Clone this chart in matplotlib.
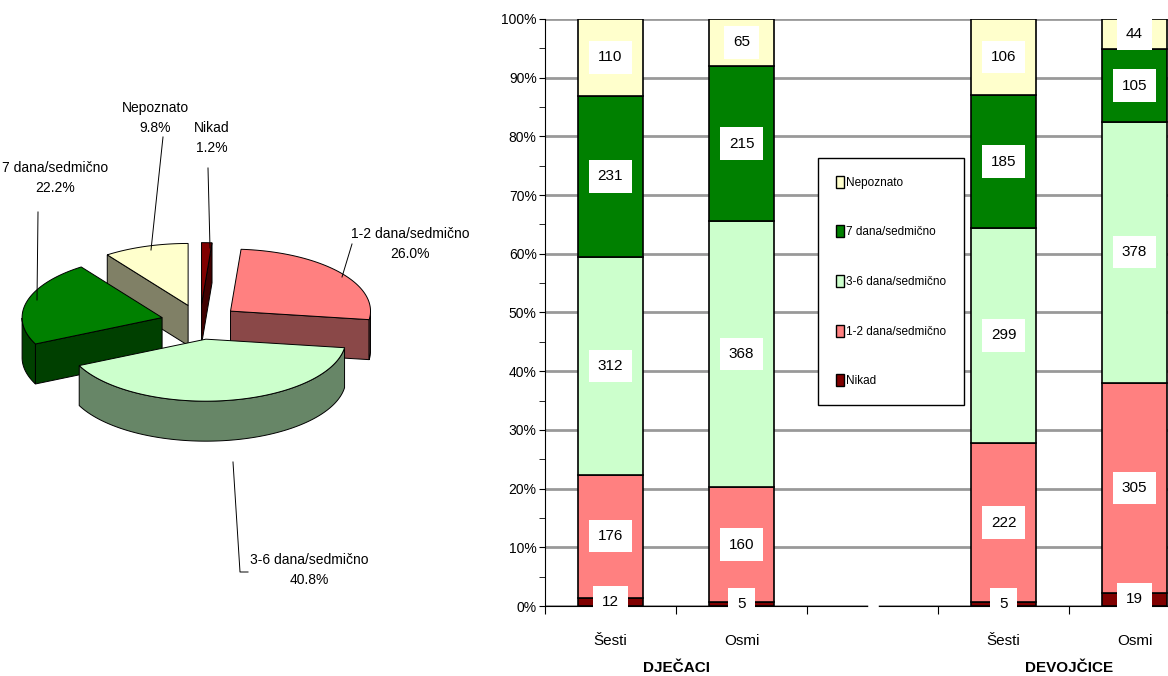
import numpy as np
import matplotlib
matplotlib.use('Agg')
import matplotlib.pyplot as plt
from matplotlib.patches import Polygon, Patch
from matplotlib.ticker import MultipleLocator, FuncFormatter

plt.rcParams['font.family'] = ['Liberation Sans Narrow', 'Liberation Sans', 'DejaVu Sans']

# podaci
serije = ['Nikad', '1-2 dana/sedmično', '3-6 dana/sedmično', '7 dana/sedmično', 'Nepoznato']
pie_udeo = [1.2, 26.0, 40.8, 22.2, 9.8]

razredi = ['Šesti', 'Osmi', 'Šesti', 'Osmi']
grupe = ['DJEČACI', 'DEVOJČICE']
nikad = [12, 5, 5, 19]
dana_12 = [176, 160, 222, 305]
dana_36 = [312, 368, 299, 378]
dana_7 = [231, 215, 185, 105]
nepoznato = [110, 65, 106, 44]

boje = ['#800000', '#FF8080', '#CCFFCC', '#008000', '#FFFFCC']
boje_strana = ['#400000', '#8A4848', '#678667', '#004000', '#808066']

W, H = 1168, 676
fig = plt.figure(figsize=(W / 100, H / 100), dpi=100)

# ---------- 3D pita (koordinate u pikselima) ----------
axp = fig.add_axes([0, 0, 490 / W, 1])
axp.set_xlim(0, 490)
axp.set_ylim(H, 0)
axp.axis('off')

cx, cy, rx, ry, dubina, eksp = 200, 322, 140, 62, 40, 0.28


def tacka(x0, y0, t):
    return x0 + rx * np.cos(t), y0 - ry * np.sin(t)


# ugao: pocinje od 90 stepeni, u smeru kazaljke
kraj = 90 - np.cumsum(pie_udeo) * 3.6
pocetak = np.concatenate([[90], kraj[:-1]])
kriske = []
for i in range(len(pie_udeo)):
    th1, th2 = np.radians(kraj[i]), np.radians(pocetak[i])
    sred = (th1 + th2) / 2
    ax0 = cx + eksp * rx * np.cos(sred)
    ay0 = cy - eksp * ry * np.sin(sred)
    kriske.append((i, th1, th2, ax0, ay0))

# crtanje od pozadi ka napred
kriske.sort(key=lambda k: k[4] - 60 * np.sin((k[1] + k[2]) / 2))
for i, th1, th2, ax0, ay0 in kriske:
    t = np.linspace(th1, th2, 120)
    xs, ys = tacka(ax0, ay0, t)
    ec = dict(edgecolor='black', linewidth=0.7)
    # radijalne strane
    if np.cos(th1) > 0:
        p = tacka(ax0, ay0, th1)
        axp.add_patch(Polygon([(ax0, ay0), p, (p[0], p[1] + dubina), (ax0, ay0 + dubina)],
                              facecolor=boje_strana[i], **ec))
    if np.cos(th2) < 0:
        p = tacka(ax0, ay0, th2)
        axp.add_patch(Polygon([(ax0, ay0), p, (p[0], p[1] + dubina), (ax0, ay0 + dubina)],
                              facecolor=boje_strana[i], **ec))
    # spoljni zid (prednji deo)
    vid = np.sin(t) <= 0
    idx = np.where(vid)[0]
    if len(idx) > 1:
        grupe_idx = np.split(idx, np.where(np.diff(idx) > 1)[0] + 1)
        for g in grupe_idx:
            if len(g) < 2:
                continue
            gx, gy = xs[g], ys[g]
            pts = list(zip(gx, gy)) + list(zip(gx[::-1], gy[::-1] + dubina))
            axp.add_patch(Polygon(pts, facecolor=boje_strana[i], **ec))
    # gornja povrsina
    axp.add_patch(Polygon([(ax0, ay0)] + list(zip(xs, ys)), facecolor=boje[i], **ec))

# natpisi pite
natpisi = {
    0: ((212, 138, 'center'), [(208, 168), (210, 248)]),
    1: ((410, 244, 'center'), [(352, 244), (342, 277)]),
    2: ((250, 570, 'left'), [(248, 572), (240, 572), (233, 462)]),
    3: ((55, 178, 'center'), [(38, 212), (37, 300)]),
    4: ((155, 118, 'center'), [(163, 137), (151, 250)]),
}
for i, ((tx, ty, ha), linija) in natpisi.items():
    axp.text(tx, ty, f'{serije[i]}\n{pie_udeo[i]:.1f}%', ha=ha, va='center',
             multialignment='center', fontsize=10, linespacing=1.6)
    lx, ly = zip(*linija)
    axp.plot(lx, ly, color='black', lw=0.7)

# ---------- stubicasti grafikon ----------
axb = fig.add_axes([545 / W, (H - 606) / H, 655 / W, (606 - 19) / H])
pozicije = [0, 1, 3, 4]
vrednosti = [nikad, dana_12, dana_36, dana_7, nepoznato]
ukupno = np.sum(vrednosti, axis=0)
dno = np.zeros(len(pozicije))
for i, v in enumerate(vrednosti):
    udeo = np.array(v) / ukupno
    axb.bar(pozicije, udeo, width=0.5, bottom=dno, color=boje[i],
            edgecolor='black', linewidth=1.2, zorder=3)
    for x, b, u, n in zip(pozicije, dno, udeo, v):
        axb.text(x, b + u / 2, str(n), ha='center', va='center', fontsize=11, zorder=5,
                 bbox=dict(boxstyle='square,pad=0.6', facecolor='white', edgecolor='none'))
    dno += udeo

axb.set_xlim(-0.5, 4.5)
axb.set_ylim(0, 1)
axb.yaxis.set_major_locator(MultipleLocator(0.1))
axb.yaxis.set_minor_locator(MultipleLocator(0.05))
axb.yaxis.set_major_formatter(FuncFormatter(lambda v, p: f'{v * 100:.0f}%'))
axb.grid(axis='y', color='#999999', linewidth=2, zorder=0)
axb.set_xticks([-0.5, 0.5, 1.5, 2.5, 3.5])
axb.set_xticklabels([])
axb.tick_params(axis='x', length=6, direction='out')
axb.tick_params(axis='y', which='both', length=4, labelsize=10, pad=2)
for s in ['top', 'right']:
    axb.spines[s].set_visible(False)
axb.spines['bottom'].set_zorder(4)
axb.plot([1.99, 2.03], [0, 0], color='white', lw=4, zorder=6, clip_on=False)

for x, r in zip(pozicije, razredi):
    axb.text(x, -0.06, r, ha='center', va='center', fontsize=11,
             transform=axb.get_xaxis_transform())
for x, g in zip([0.5, 3.5], grupe):
    axb.text(x, -0.105, g, ha='center', va='center', fontsize=11, fontweight='bold',
             transform=axb.get_xaxis_transform())

ruke = [Patch(facecolor=boje[i], edgecolor='black', label=serije[i]) for i in range(4, -1, -1)]
fig.legend(handles=ruke, loc='upper left', bbox_to_anchor=(818 / W, 1 - 158 / H),
           frameon=True, fancybox=False, edgecolor='black', framealpha=1, fontsize=8.5,
           labelspacing=3.1, handlelength=0.7, handleheight=1.2, handletextpad=0.2,
           borderpad=1.5, borderaxespad=0)

fig.savefig('out.png', dpi=100)
